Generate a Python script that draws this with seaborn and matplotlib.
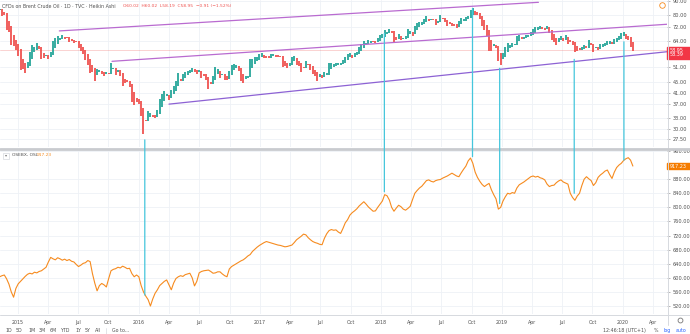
import numpy as np
import pandas as pd
import matplotlib
matplotlib.use("Agg")
import matplotlib.pyplot as plt
import matplotlib.dates as mdates
import matplotlib.transforms as mtransforms
from matplotlib.patches import ConnectionPatch, Rectangle
from matplotlib.lines import Line2D
import seaborn as sns

# ---------------- data ----------------
# Brent crude, weekly closes (Fridays) from 2014-11-07
brent_2014 = [83.4, 79.4, 80.4, 70.2, 69.1, 61.9, 61.4, 59.5]
brent_2015 = [56.4, 50.1, 50.2, 48.8, 53.0, 57.8, 61.5, 60.2, 62.6, 59.7, 54.7, 55.3, 56.4,
              55.0, 57.9, 63.4, 65.3, 66.5, 65.4, 66.8, 65.4, 65.6, 63.3, 63.9, 63.0, 63.3,
              60.3, 58.7, 57.1, 54.6, 52.2, 48.6, 49.2, 45.5, 50.1, 49.6, 48.1, 47.5, 48.6,
              48.1, 52.6, 50.5, 48.0, 49.6, 47.4, 43.6, 44.7, 44.9, 43.0, 37.9, 36.9, 38.0]
brent_2016 = [37.3, 33.6, 28.9, 32.2, 34.7, 34.1, 33.4, 33.0, 35.1, 38.7, 40.4, 41.2, 40.4,
              38.7, 41.9, 43.1, 45.1, 48.1, 45.4, 47.8, 48.7, 49.3, 49.6, 50.5, 49.2, 48.4,
              49.7, 46.8, 47.6, 45.7, 42.5, 44.3, 47.0, 50.9, 49.9, 46.8, 48.0, 45.8, 45.9,
              49.2, 51.9, 51.95, 51.8, 49.7, 45.6, 44.75, 46.9, 47.2, 54.5, 54.3, 55.2, 55.2, 56.8]
brent_2017 = [57.1, 55.45, 55.5, 55.5, 56.8, 56.7, 55.8, 56.0, 55.9, 51.4, 51.8, 50.8, 52.8,
              55.2, 55.9, 52.0, 51.7, 49.1, 50.8, 53.6, 52.2, 49.95, 48.2, 47.4, 45.5, 47.9,
              46.7, 48.9, 48.1, 52.5, 52.4, 52.1, 52.7, 52.4, 52.75, 53.8, 55.6, 56.9, 57.5,
              55.6, 57.2, 57.75, 60.4, 62.1, 63.5, 62.7, 63.9, 63.7, 63.4, 63.2, 65.25, 66.9]
brent_2018 = [67.6, 69.9, 68.6, 70.5, 68.6, 62.8, 64.8, 67.3, 64.4, 65.5, 66.2, 70.5, 69.3,
              67.1, 72.6, 74.1, 74.6, 74.9, 77.1, 78.5, 76.4, 76.8, 76.5, 73.4, 75.55, 79.4,
              77.1, 75.3, 73.1, 74.3, 73.2, 72.8, 71.8, 75.8, 77.4, 76.8, 78.1, 78.8, 82.7,
              84.2, 80.4, 79.8, 77.6, 72.8, 70.2, 66.8, 58.8, 58.7, 61.7, 60.3, 53.8, 52.2]
brent_2019 = [57.1, 60.5, 62.7, 61.6, 62.75, 62.1, 66.25, 67.1, 65.1, 65.7, 67.2, 67.0, 68.4,
              70.3, 71.55, 71.97, 72.15, 70.85, 70.6, 72.2, 68.7, 64.5, 63.3, 62.0, 65.2, 66.55,
              64.2, 66.7, 62.5, 63.5, 61.9, 58.5, 58.6, 59.3, 60.4, 61.5, 60.2, 64.3, 61.9,
              58.4, 60.5, 59.4, 61.7, 61.7, 62.5, 63.3, 63.4, 62.4, 64.4, 65.2, 66.1, 68.2]
brent_2020 = [68.6, 65.0, 64.85, 60.7, 58.95]

# Oslo Børs benchmark index (OSEBX), weekly closes from 2014-11-07
osebx_2014 = [603, 606, 608, 597, 582, 560, 545, 570]
osebx_2015 = [583, 590, 597, 604, 610, 613, 611, 616, 614, 618, 620, 625, 630, 645, 658, 654,
              651, 657, 654, 650, 653, 649, 652, 647, 645, 638, 632, 636, 641, 643, 649, 646,
              612, 585, 563, 578, 584, 580, 574, 598, 620, 624, 626, 630, 628, 633, 630, 626,
              627, 612, 603, 608]
osebx_2016 = [603, 578, 560, 548, 538, 520, 540, 556, 566, 578, 584, 590, 594, 580, 566, 585,
              598, 603, 606, 604, 609, 611, 613, 600, 577, 590, 614, 618, 620, 621, 622, 618,
              613, 614, 617, 617, 611, 606, 603, 625, 632, 636, 640, 644, 648, 651, 656, 662,
              666, 675, 681, 687, 692]
osebx_2017 = [696, 700, 703, 701, 699, 697, 695, 693, 692, 690, 688, 689, 691, 693, 700, 708,
              713, 718, 724, 722, 714, 708, 703, 700, 698, 695, 694, 712, 725, 734, 737, 735,
              736, 730, 726, 740, 756, 765, 778, 785, 790, 796, 804, 810, 816, 809, 801, 795,
              789, 790, 800, 809]
osebx_2018 = [818, 836, 833, 821, 800, 789, 798, 806, 802, 795, 792, 797, 803, 822, 840, 848,
              855, 860, 868, 876, 878, 874, 872, 876, 878, 879, 883, 886, 889, 893, 897, 893,
              889, 887, 898, 908, 917, 932, 940, 925, 900, 885, 874, 865, 859, 864, 868, 850,
              836, 824, 795, 800]
osebx_2019 = [818, 830, 840, 838, 842, 840, 855, 864, 868, 872, 877, 882, 887, 889, 886, 888,
              884, 882, 878, 866, 859, 862, 863, 870, 875, 878, 872, 869, 866, 840, 828, 820,
              832, 840, 862, 880, 887, 881, 876, 862, 870, 885, 892, 897, 903, 906, 893, 882,
              900, 913, 920, 925]
osebx_2020 = [933, 938, 941, 934, 917.23]

first_week = "2014-11-07"

# Hand-drawn trend channel (start date, end date, start price, end price)
channel_top = (["2015-05-06", "2019-04-21"], [69.6, 89.0])
channel_mid = (["2015-10-12", "2020-05-13"], [53.6, 73.7])
channel_low = (["2016-04-01", "2020-05-13"], [37.1, 58.2])

# Turning points linked between the two panes
link_dates = ["2016-01-19", "2018-01-11", "2018-10-04", "2018-12-25", "2019-08-07", "2020-01-04"]
link_oil = [27.3, 68.2, 84.5, 50.5, 54.5, 63.4]
link_osebx = [551, 844, 944, 811, 840, 934]

oil_ticks = [90, 80, 72, 64, 51, 45, 41, 37, 33, 30, 27.5]
osebx_ticks = [960, 880, 840, 800, 760, 720, 680, 640, 600, 560, 520]
quarter_names = ["Apr", "Jul", "Oct"]
years = [2015, 2016, 2017, 2018, 2019, 2020]

last_price = 58.95
last_price_alt = 58.39
osebx_last = 917.23

range_buttons = ["1D", "5D", "1M", "3M", "6M", "YTD", "1Y", "5Y", "All"]

# ---------------- frames ----------------
brent = brent_2014 + brent_2015 + brent_2016 + brent_2017 + brent_2018 + brent_2019 + brent_2020
osebx = osebx_2014 + osebx_2015 + osebx_2016 + osebx_2017 + osebx_2018 + osebx_2019 + osebx_2020

oil = pd.DataFrame({"date": pd.date_range(first_week, periods=len(brent), freq="W-FRI"),
                    "close": brent})
ose = pd.DataFrame({"date": pd.date_range(first_week, periods=len(osebx), freq="W-FRI"),
                    "close": osebx})

# Heikin Ashi bodies
c = oil["close"].to_numpy(dtype=float)
o = np.empty_like(c)
o[0] = c[0]
for i in range(1, len(c)):
    o[i] = (o[i - 1] + c[i - 1]) / 2
oil["ha_open"] = o
oil["lo"] = np.minimum(o, c)
oil["hi"] = np.maximum(o, c)
oil["up"] = c >= o

# ---------------- figure ----------------
sns.set_theme(style="white")
plt.rcParams["font.family"] = ["DejaVu Sans"]

W, H = 690, 334
fig = plt.figure(figsize=(W / 100, H / 100), dpi=100)
fig.patch.set_facecolor("white")


def fx(x):
    return x / W


def fy(y):
    return 1 - y / H


PLOT_R = 667
ax1 = fig.add_axes([0, fy(147.5), fx(PLOT_R), 147.5 / H])
ax2 = fig.add_axes([0, fy(314), fx(PLOT_R), (314 - 150) / H], sharex=ax1)

GRID = "#eef1f6"
TXT = "#4f4f4f"
UP, DOWN = "#26a69a", "#ef5350"
ORANGE = "#f68b1f"
CYAN = "#45c6dc"

x0, x1 = pd.Timestamp("2014-11-08"), pd.Timestamp("2020-05-13")

# quarterly grid / time ticks
tick_dates, tick_labels = [], []
for yr in years:
    tick_dates.append(pd.Timestamp(f"{yr}-01-01"))
    tick_labels.append(str(yr))
    for k, name in enumerate(quarter_names):
        d = pd.Timestamp(f"{yr}-{3 * k + 4:02d}-01")
        if d < x1:
            tick_dates.append(d)
            tick_labels.append(name)

# --- top pane: Brent Heikin Ashi ---
ax1.set_yscale("log")
for ax in (ax1, ax2):
    ax.set_facecolor("white")
    for s in ax.spines.values():
        s.set_visible(False)
    ax.yaxis.tick_right()
    ax.tick_params(axis="y", which="both", length=2, width=0.5, color="#9a9a9a",
                   labelsize=3.6, labelcolor=TXT, pad=2)
    ax.grid(True, which="major", color=GRID, lw=0.6)
    ax.set_xlabel("")
    ax.set_ylabel("")

ax1.axhline(last_price, color=DOWN, lw=0.6, alpha=0.3, zorder=1)
for up, col in ((True, UP), (False, DOWN)):
    sub = oil[oil["up"] == up]
    ax1.vlines(sub["date"], sub["lo"] * 0.996, sub["hi"] * 1.004, color=col, lw=1.3, zorder=3)

for (dates, prices), col in ((channel_top, "#b96bd0"), (channel_mid, "#b96bd0"),
                             (channel_low, "#8d62d4")):
    ax1.plot(pd.to_datetime(dates), prices, color=col, lw=0.9, zorder=4)

ax1.set_ylim(25.56, 90.78)
ax1.yaxis.set_minor_locator(matplotlib.ticker.NullLocator())
ax1.set_yticks(oil_ticks)
ax1.set_yticklabels([f"{v:.2f}" for v in oil_ticks])
ax1.tick_params(axis="x", which="both", bottom=False, labelbottom=False)

# --- bottom pane: OSEBX ---
sns.lineplot(data=ose, x="date", y="close", ax=ax2, color=ORANGE, lw=0.8, zorder=3)
ax2.set_xlabel("")
ax2.set_ylabel("")
ax2.set_ylim(497.3, 962.8)
ax2.set_yticks(osebx_ticks)
ax2.set_yticklabels([f"{v:.2f}" for v in osebx_ticks])
ax2.set_xlim(x0, x1)
ax2.set_xticks(tick_dates)
ax2.set_xticklabels(tick_labels)
ax2.tick_params(axis="x", length=1.5, width=0.5, color="#9a9a9a", labelsize=3.4,
                labelcolor=TXT, pad=2.5)
ax1.set_xlim(x0, x1)

# links between panes
for d, a, b in zip(link_dates, link_oil, link_osebx):
    xd = mdates.date2num(pd.Timestamp(d))
    con = ConnectionPatch(xyA=(xd, a), coordsA=ax1.transData, xyB=(xd, b),
                          coordsB=ax2.transData, color=CYAN, lw=0.9, zorder=6)
    fig.add_artist(con)

# price tags on the scale
tr1 = mtransforms.blended_transform_factory(ax1.transAxes, ax1.transData)
tag_w = (W - PLOT_R) / PLOT_R
ax1.add_patch(Rectangle((1.0, 54.7), tag_w, 60.6 - 54.7, transform=tr1, color="#f23645",
                        clip_on=False, zorder=7))
ax1.text(1.004, last_price, f"{last_price:.2f}", transform=tr1, fontsize=3.5, color="white",
         va="center", ha="left", clip_on=False, zorder=8)
ax1.text(1.004, 56.6, f"{last_price_alt:.2f}", transform=tr1, fontsize=3.5, color="white",
         va="center", ha="left", clip_on=False, zorder=8)

tr2 = mtransforms.blended_transform_factory(ax2.transAxes, ax2.transData)
ax2.add_patch(Rectangle((1.0, osebx_last - 9.5), tag_w, 19, transform=tr2, color="#f57c00",
                        clip_on=False, zorder=7))
ax2.text(1.004, osebx_last, f"{osebx_last:.2f}", transform=tr2, fontsize=3.5, color="white",
         va="center", ha="left", clip_on=False, zorder=8)

# pane frames
fig.add_artist(Line2D([fx(PLOT_R + 0.5)] * 2, [fy(0), fy(325)], color="#d6d9df", lw=0.7))
fig.add_artist(Line2D([0, 1], [fy(148.8)] * 2, color="#c9cbcf", lw=2.0))
fig.add_artist(Line2D([0, 1], [fy(314.5)] * 2, color="#d6d9df", lw=0.7))

# legends in the panes
fig.text(fx(2), fy(6), "CFDs on Brent Crude Oil · 1D · TVC · Heikin Ashi", fontsize=3.4,
         color=TXT, va="center", ha="left")
fig.text(fx(123), fy(6), "O60.02  H60.02  L58.19  C58.95  −0.91 (−1.52%)", fontsize=3.2,
         color=DOWN, va="center", ha="left")
fig.add_artist(Line2D([fx(662)], [fy(4.5)], marker="o", ms=4, mfc="none", mec=ORANGE,
                      mew=0.6))

fig.add_artist(Rectangle((fx(2.5), fy(158.5)), fx(6.5), 6 / H, facecolor="white",
                         edgecolor="#d6d9df", lw=0.5))
fig.text(fx(5.8), fy(155.3), "▾", fontsize=3, color="#777777", va="center", ha="center")
fig.text(fx(12), fy(155.3), "OSEBX, OSL", fontsize=3.2, color=TXT, va="center", ha="left")
fig.text(fx(37), fy(155.3), f"{osebx_last:.2f}", fontsize=3.2, color=ORANGE, va="center",
         ha="left")

# bottom toolbar
btn_x = [5, 16, 28, 39, 50, 61, 75, 85, 95]
for x, lab in zip(btn_x, range_buttons):
    fig.text(fx(x), fy(330.5), lab, fontsize=3.4, color=TXT, va="center", ha="left")
fig.add_artist(Line2D([fx(106)] * 2, [fy(327.5), fy(333.5)], color="#d6d9df", lw=0.5))
fig.text(fx(112), fy(330.5), "Go to...", fontsize=3.4, color=TXT, va="center", ha="left")
fig.text(fx(603), fy(330.5), "12:46:18 (UTC+1)", fontsize=3.4, color=TXT, va="center",
         ha="left")
fig.text(fx(654), fy(330.5), "%", fontsize=3.4, color=TXT, va="center", ha="left")
fig.text(fx(663), fy(330.5), "log", fontsize=3.4, color="#2962ff", va="center", ha="left")
fig.text(fx(676), fy(330.5), "auto", fontsize=3.4, color="#2962ff", va="center", ha="left")
fig.add_artist(Line2D([fx(680)], [fy(320)], marker="o", ms=3.5, mfc="none", mec="#777777",
                      mew=0.6))

fig.savefig("out.png", dpi=100, facecolor="white")
